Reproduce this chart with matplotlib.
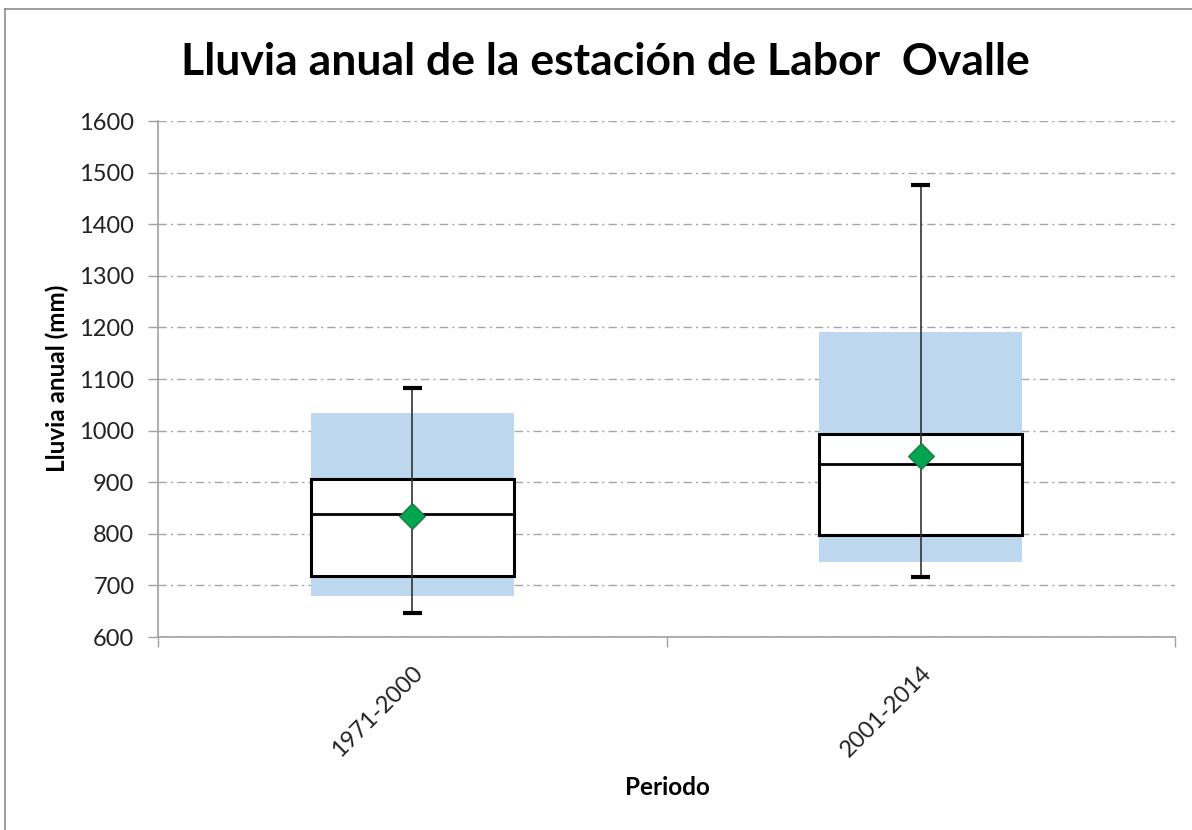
import matplotlib
matplotlib.use("Agg")
import matplotlib.pyplot as plt
from matplotlib.patches import Rectangle
from matplotlib.lines import Line2D

plt.rcParams['font.family'] = ['Lato', 'DejaVu Sans']

categories = ["1971-2000", "2001-2014"]
band_low = [679, 745]
band_high = [1034, 1191]
q1 = [718, 798]
median = [838, 935]
q3 = [906, 993]
whisker_low = [646, 716]
whisker_high = [1083, 1476]
mean = [834, 951]
yticks = [600, 700, 800, 900, 1000, 1100, 1200, 1300, 1400, 1500, 1600]

fig = plt.figure(figsize=(11.92, 8.30), dpi=100)
ax = fig.add_axes([158/1192, 1 - 637/830, (1175-158)/1192, (637-121)/830])

pos = [0.5, 1.5]
w = 0.4
for i, x in enumerate(pos):
    ax.add_patch(Rectangle((x - w/2, band_low[i]), w, band_high[i] - band_low[i],
                           facecolor='#bdd7ee', edgecolor='none', zorder=2))
    ax.add_patch(Rectangle((x - w/2, q1[i]), w, q3[i] - q1[i],
                           facecolor='white', edgecolor='black', linewidth=2.2, zorder=3))
    ax.plot([x - w/2, x + w/2], [median[i], median[i]], color='black', linewidth=2.0, zorder=4)
    ax.plot([x, x], [whisker_low[i], whisker_high[i]], color='#333333', linewidth=1.2, zorder=5)
    for v in (whisker_low[i], whisker_high[i]):
        ax.plot([x - 0.019, x + 0.019], [v, v], color='black', linewidth=3, zorder=5,
                solid_capstyle='butt')
    ax.plot([x], [mean[i]], marker='D', markersize=13, markerfacecolor='#00a550',
            markeredgecolor='#2a6b3a', markeredgewidth=0.8, zorder=6)

ax.set_xlim(0, 2)
ax.set_ylim(600, 1600)
ax.set_yticks(yticks)
ax.set_yticklabels([str(t) for t in yticks], fontsize=17, color='#222222')
ax.set_xticks([0, 1, 2])
ax.set_xticklabels([])
ax.set_xticks(pos, minor=True)
ax.set_xticklabels(categories, minor=True, rotation=45, ha='right', va='top',
                   rotation_mode='anchor', fontsize=17, color='#222222')
ax.tick_params(axis='x', which='minor', length=0, pad=18)
ax.tick_params(axis='x', which='major', length=7, color='#a0a0a0', width=1)
ax.tick_params(axis='y', length=7, color='#a0a0a0', width=1, pad=10)

ax.grid(axis='y', which='major', color='#a6a6a6', linestyle=(0, (6, 3, 1.5, 3)), linewidth=1.0, zorder=0)
ax.set_axisbelow(True)
for s in ['top', 'right']:
    ax.spines[s].set_visible(False)
for s in ['left', 'bottom']:
    ax.spines[s].set_color('#a0a0a0')
    ax.spines[s].set_linewidth(1.2)

fig.text(57/1192, 1 - 378/830, "Lluvia anual (mm)", fontsize=17.5, fontweight='bold',
         rotation=90, ha='center', va='center')
fig.text(667/1192, 1 - 787/830, "Periodo", fontsize=17.5, fontweight='bold', ha='center', va='center')
fig.text(605/1192, 1 - 62/830, "Lluvia anual de la estación de Labor  Ovalle", fontsize=32,
         fontweight='bold', ha='center', va='center')

fig.add_artist(Line2D([5/1192, 1.0], [1 - 9/830, 1 - 9/830], transform=fig.transFigure,
                      color='#8c8c8c', linewidth=1.2))
fig.add_artist(Line2D([5/1192, 5/1192], [0, 1 - 9/830], transform=fig.transFigure,
                      color='#8c8c8c', linewidth=1.2))

fig.savefig("out.png", dpi=100)
